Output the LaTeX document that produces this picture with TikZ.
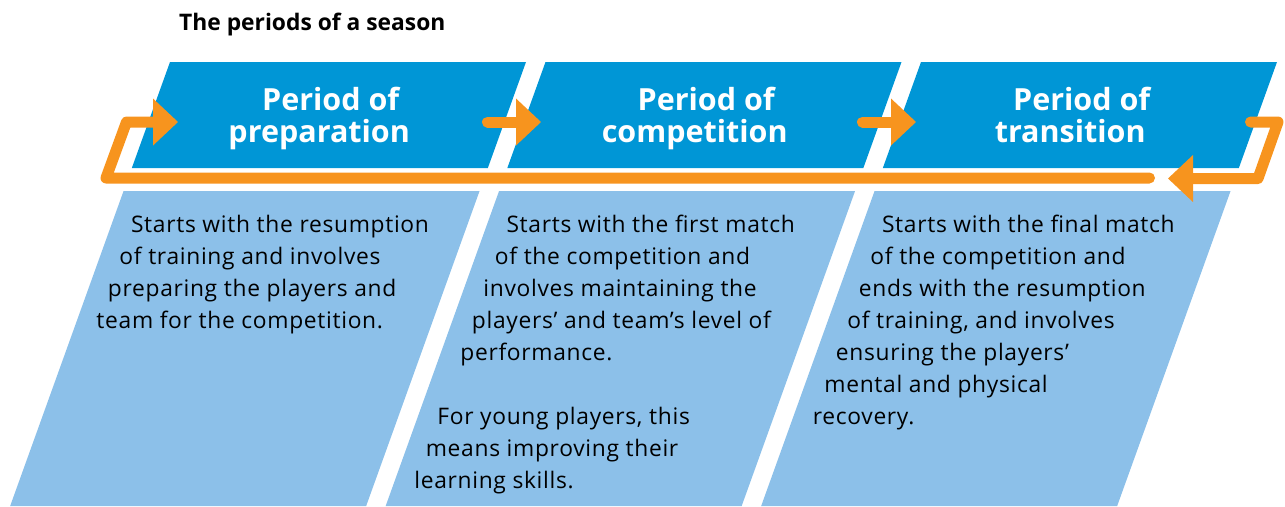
\documentclass[tikz,border=0pt]{standalone}
\usepackage{fontspec}
\setmainfont{Open Sans}
\newfontfamily\bodyfont{Open Sans}[LetterSpace=3]
\usetikzlibrary{arrows.meta}
\definecolor{darkblue}{RGB}{0,150,214}
\definecolor{lightblue}{RGB}{140,192,233}
\definecolor{orng}{RGB}{247,148,30}
\begin{document}
\begin{tikzpicture}[x=1pt,y=-1pt,
  head/.style={text=white,font=\fontsize{30.5}{32}\bfseries\selectfont,inner sep=0pt,anchor=base},
  body/.style={font=\bodyfont\fontsize{22.8}{32}\selectfont,inner sep=0pt,anchor=base west,text=black},
  loopline/.style={draw=orng,line width=11pt,line join=round,line cap=round},
  tip/.style={-{Triangle[length=25pt,width=47pt,line width=0pt]}}]
\useasboundingbox (0,0) rectangle (1285,506);
% boxes
\foreach \L in {170,545.5,921}{
  \fill[darkblue] (\L,62) -- ++(356,0) -- ++(-38.16,106) -- ++(-356,0) -- cycle;
  \fill[lightblue] ({\L-0.36*129},191) -- ++(356,0) -- ++({-0.36*315},315) -- ++(-356,0) -- cycle;
}
% title
\node[font=\fontsize{22.8}{26}\bfseries\selectfont,anchor=base west,inner sep=0pt] (title) at (179,30) {The periods of a season};
% headers
\node[head] (h1a) at ({170+160.7},110) {Period of};
\node[head] (h1b) at ({170+149.2},142) {preparation};
\node[head] (h2a) at ({545.5+160.7},110) {Period of};
\node[head] (h2b) at ({545.5+149.2},142) {competition};
\node[head] (h3a) at ({921+160.7},110) {Period of};
\node[head] (h3b) at ({921+149.2},142) {transition};
% body texts
\def\L{170}
\foreach \t [count=\k from 0] in {{Starts with the resumption},{of training and involves},{preparing the players and},{team for the competition.}}{
  \node[body] (pa\k) at ({\L+22-0.36*(170+32*\k)},{232+32*\k}) {\t};
}
\def\L{545.5}
\foreach \t [count=\k from 0] in {{Starts with the first match},{of the competition and},{involves maintaining the},{players’ and team’s level of},{performance.},{},{For young players, this},{means improving their},{learning skills.}}{
  \node[body] (pb\k) at ({\L+22-0.36*(170+32*\k)},{232+32*\k}) {\t};
}
\def\L{921}
\foreach \t [count=\k from 0] in {{Starts with the final match},{of the competition and},{ends with the resumption},{of training, and involves},{ensuring the players’},{mental and physical},{recovery.}}{
  \node[body] (pc\k) at ({\L+22-0.36*(170+32*\k)},{232+32*\k}) {\t};
}
% orange loop and arrows
\coordinate (a1) at (1149.5,178);
\coordinate (a2) at (106,178);
\coordinate (a3) at (126.5,122);
\coordinate (a4) at (178,122);
\coordinate (b1) at (1250.5,122);
\coordinate (b2) at (1278,122);
\coordinate (b3) at (1258,178.5);
\coordinate (b4) at (1168,178.5);
\coordinate (c1) at (487.5,122);
\coordinate (c2) at (541,122);
\coordinate (d1) at (862.5,122);
\coordinate (d2) at (916,122);
\draw[loopline,tip] (a1) -- (a2) -- (a3) -- (a4);
\draw[loopline,tip] (b1) -- (b2) -- (b3) -- (b4);
\draw[loopline,tip] (c1) -- (c2);
\draw[loopline,tip] (d1) -- (d2);
\end{tikzpicture}
\end{document}
